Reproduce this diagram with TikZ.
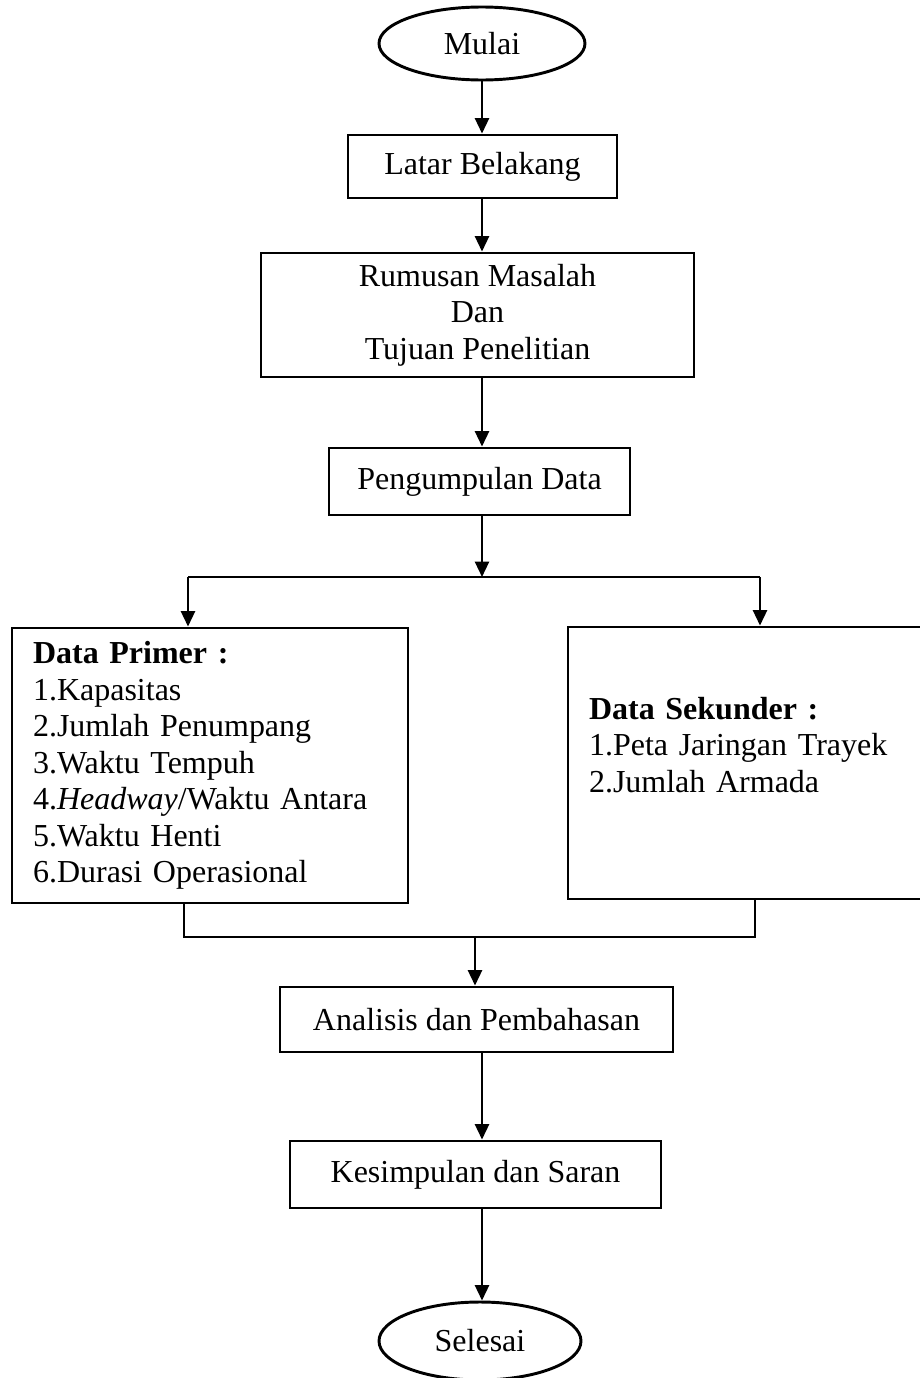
\documentclass[tikz,border=0pt]{standalone}
\usepackage{fontspec}
\setmainfont{Liberation Serif}
\usetikzlibrary{shapes.geometric,arrows.meta}

\begin{document}
\begin{tikzpicture}[x=0.75pt,y=0.75pt,yscale=-1,xscale=1,
  every node/.style={font=\fontsize{24}{27.4}\selectfont},
  kotak/.style={draw, line width=2.2pt, rectangle, inner sep=0pt},
  oval/.style={draw, line width=2.2pt, ellipse, inner sep=0pt},
  panah/.style={line width=1.7pt, -{Triangle[length=11.5pt,width=10.5pt]}},
  garis/.style={line width=2.2pt}]
%set diagram left start at 0, and has height of 1378
\path [use as bounding box] (0,0) rectangle (920,1378);
\clip (0,0) rectangle (920,1378);

%Shape: Ellipse [id:mulai]
\node [oval, minimum width=154.5pt, minimum height=54.75pt] (mulai) at (482,43.5) {Mulai};
%Shape: Rectangle [id:latar]
\node [kotak, minimum width=201.75pt, minimum height=47.25pt] (latar) at (482.5,166.5) {Latar Belakang};
%Shape: Rectangle [id:rumusan]
\node [kotak, minimum width=324.75pt, minimum height=93pt, align=center] (rumusan) at (477.5,315) {Rumusan Masalah\\Dan\\Tujuan Penelitian};
%Shape: Rectangle [id:pengumpulan]
\node [kotak, minimum width=225.75pt, minimum height=50.25pt] (pengumpulan) at (479.5,481.5) {Pengumpulan Data};
%Shape: Rectangle [id:primer]
\node [kotak, text width=265.5pt, inner xsep=15.75pt, minimum height=206.25pt, align=left] (primer) at (210,765.5) {\textbf{Data Primer :}\\1.Kapasitas\\2.Jumlah Penumpang\\3.Waktu Tempuh\\4.\textit{Headway}/Waktu Antara\\5.Waktu Henti\\6.Durasi Operasional};
%Shape: Rectangle [id:sekunder]
\node [kotak, text width=243.75pt, inner xsep=15.75pt, minimum height=204pt, align=left] (sekunder) at (751.5,763) {\textbf{Data Sekunder :}\\1.Peta Jaringan Trayek\\2.Jumlah Armada\\~};
%Shape: Rectangle [id:analisis]
\node [kotak, minimum width=294.75pt, minimum height=48.75pt] (analisis) at (476.5,1019.5) {Analisis dan Pembahasan};
%Shape: Rectangle [id:kesimpulan]
\node [kotak, minimum width=278.25pt, minimum height=50.25pt] (kesimpulan) at (475.5,1174.5) {Kesimpulan dan Saran};
%Shape: Ellipse [id:selesai]
\node [oval, minimum width=151.5pt, minimum height=58.5pt] (selesai) at (480,1341) {Selesai};

%branch and merge points
\coordinate (bagi) at (482,577);
\coordinate (bagiL) at (188,577);
\coordinate (bagiR) at (760,577);
\coordinate (gabungL) at (184,937);
\coordinate (gabungR) at (755,937);
\coordinate (gabung) at (475,937);

%Straight Lines
\draw [panah] (mulai.south) -- (mulai.south |- latar.north);
\draw [panah] (latar.south -| mulai) -- (rumusan.north -| mulai);
\draw [panah] (rumusan.south -| mulai) -- (pengumpulan.north -| mulai);
\draw [panah] (pengumpulan.south -| mulai) -- (bagi);
\draw [garis] (bagiL) -- (bagiR);
\draw [panah] (bagiL) -- (bagiL |- primer.north);
\draw [panah] (bagiR) -- (bagiR |- sekunder.north);
%Straight Lines
\draw [garis] (gabungL |- primer.south) -- (gabungL) -- (gabungR) -- (gabungR |- sekunder.south);
\draw [panah] (gabung) -- (gabung |- analisis.north);
\draw [panah] (analisis.south -| mulai) -- (kesimpulan.north -| mulai);
\draw [panah] (kesimpulan.south -| mulai) -- (selesai.north -| mulai);

\end{tikzpicture}
\end{document}
